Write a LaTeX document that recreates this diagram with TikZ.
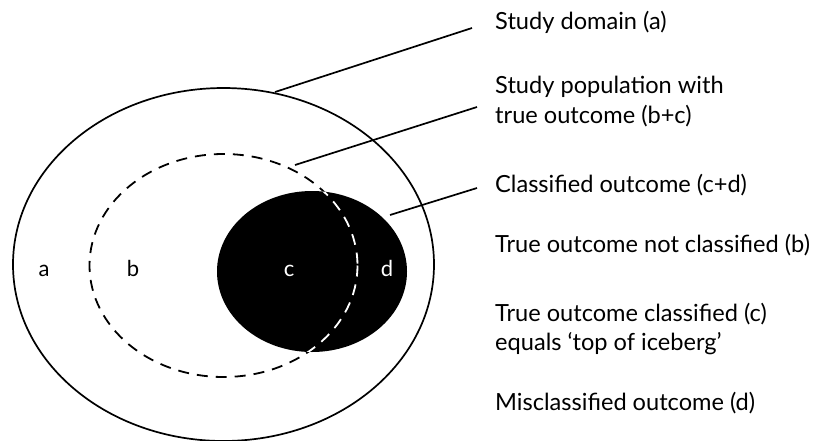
\documentclass[tikz,border=0pt]{standalone}
\usepackage{fontspec}
\setmainfont{Lato}
\begin{document}
\begin{tikzpicture}[x=1pt,y=-1pt,
  lbl/.style={anchor=base west, inner sep=0pt, font=\fontsize{23.6}{28}\selectfont},
  letter/.style={anchor=base, inner sep=0pt, font=\fontsize{22}{26}\selectfont},
  leader/.style={line width=1.7pt},
  dashring/.style={line width=1.8pt, dash pattern=on 11pt off 8pt}]
\useasboundingbox (0,0) rectangle (814,440);
% outer ellipse (study domain)
\draw[line width=1.7pt] (223.5,264.5) ellipse [x radius=210.5, y radius=176.5];
% dashed ellipse (true outcome)
\draw[dashring] (223.5,265.5) ellipse [x radius=134, y radius=111.5];
% black ellipse (classified)
\fill[black] (312,271.5) ellipse [x radius=95, y radius=80.5];
\begin{scope}
  \clip (312,271.5) ellipse [x radius=95, y radius=80.5];
  \draw[dashring, white] (223.5,265.5) ellipse [x radius=134, y radius=111.5];
\end{scope}
% region letters
\node[letter] (la) at (44,276) {a};
\node[letter] (lb) at (133,276) {b};
\node[letter, text=white] (lc) at (289,276) {c};
\node[letter, text=white] (ld) at (387,276) {d};
% labels
\node[lbl] (t1) at (495,29) {Study domain (a)};
\node[lbl] (t2) at (495,93) {Study population with};
\node[lbl] (t2b) at (495,123) {true outcome (b+c)};
\node[lbl] (t3) at (495,192) {Classified outcome (c+d)};
\node[lbl] (t4) at (495,252) {True outcome not classified (b)};
\node[lbl] (t5) at (495,321) {True outcome classified (c)};
\node[lbl] (t5b) at (495,350) {equals `top of iceberg'};
\node[lbl] (t6) at (495,410) {Misclassified outcome (d)};
% leader lines
\coordinate (p1) at (275,92);
\coordinate (q1) at (472,28);
\coordinate (p2) at (295,165);
\coordinate (q2) at (477,107);
\coordinate (p3) at (390,215);
\coordinate (q3) at (477,188);
\draw[leader] (p1) -- (q1);
\draw[leader] (p2) -- (q2);
\draw[leader] (p3) -- (q3);
\end{tikzpicture}
\end{document}
